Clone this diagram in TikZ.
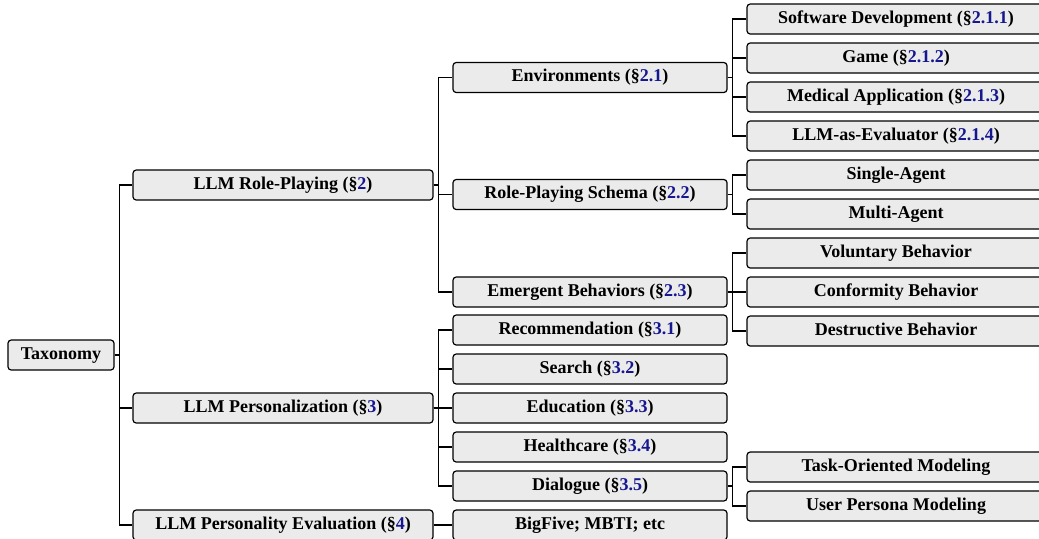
\documentclass[tikz,border=0pt]{standalone}
\usepackage{fontspec}
\setmainfont{Liberation Serif}
\usepackage{tikz}
\usetikzlibrary{positioning,calc}
\definecolor{boxgray}{HTML}{EBEBEB}
\definecolor{refblue}{HTML}{16168F}
\newcommand{\secnum}[1]{(\S\textcolor{refblue}{#1})}
\tikzset{
  % kasten
  tx/.style={draw=black,fill=boxgray,line width=0.6pt,rounded corners=1.6pt,
             inner sep=0pt,minimum height=15pt,text height=6.3pt,text depth=1.9pt,
             font=\fontsize{9}{11}\selectfont\bfseries,align=center},
  tx0/.style={tx,minimum width=53pt},
  tx1/.style={tx,minimum width=150pt},
  tx2/.style={tx,minimum width=137pt},
  tx3/.style={tx,minimum width=149pt},
  % kanter
  fk/.style={draw=black,line width=0.65pt},
}
\begin{document}
\begin{tikzpicture}[x=0.5pt,y=-0.5pt]
\useasboundingbox (0,0) rectangle (1039,538);
  \node[tx0] (root) at (61,355) {Taxonomy};
  % nivå 1
  \node[tx1] (rp) at (283,185) {LLM Role-Playing \secnum{2}};
  \node[tx1] (pers) at (283,408) {LLM Personalization \secnum{3}};
  \node[tx1] (peval) at (283,525) {LLM Personality Evaluation \secnum{4}};
  % nivå 2
  \node[tx2] (env) at (590,77.5) {Environments \secnum{2.1}};
  \node[tx2] (schema) at (590,194.5) {Role-Playing Schema \secnum{2.2}};
  \node[tx2] (emerg) at (590,292) {Emergent Behaviors \secnum{2.3}};
  \node[tx2] (rec) at (590,330) {Recommendation \secnum{3.1}};
  \node[tx2] (search) at (590,369) {Search \secnum{3.2}};
  \node[tx2] (edu) at (590,408) {Education \secnum{3.3}};
  \node[tx2] (health) at (590,447) {Healthcare \secnum{3.4}};
  \node[tx2] (dial) at (590,486) {Dialogue \secnum{3.5}};
  \node[tx2] (big) at (590,525) {BigFive; MBTI; etc};
  % nivå 3
  \node[tx3] (soft) at (896,19) {Software Development \secnum{2.1.1}};
  \node[tx3] (game) at (896,58) {Game \secnum{2.1.2}};
  \node[tx3] (med) at (896,97) {Medical Application \secnum{2.1.3}};
  \node[tx3] (judge) at (896,136) {LLM-as-Evaluator \secnum{2.1.4}};
  \node[tx3] (single) at (896,175) {Single-Agent};
  \node[tx3] (multi) at (896,214) {Multi-Agent};
  \node[tx3] (vol) at (896,253) {Voluntary Behavior};
  \node[tx3] (conf) at (896,292) {Conformity Behavior};
  \node[tx3] (destr) at (896,331) {Destructive Behavior};
  \node[tx3] (task) at (896,467) {Task-Oriented Modeling};
  \node[tx3] (user) at (896,506) {User Persona Modeling};
  % gafflar
  \foreach \c in {rp,pers,peval}
    \draw[fk] (root.east) -- ++(2.5pt,0) |- (\c.west);
  \foreach \c in {env,schema,emerg}
    \draw[fk] (rp.east) -- ++(2.5pt,0) |- (\c.west);
  \foreach \c in {rec,search,edu,health,dial}
    \draw[fk] (pers.east) -- ++(2.5pt,0) |- (\c.west);
  \draw[fk] (peval.east) -- (big.west);
  \foreach \c in {soft,game,med,judge}
    \draw[fk] (env.east) -- ++(2.5pt,0) |- (\c.west);
  \foreach \c in {single,multi}
    \draw[fk] (schema.east) -- ++(2.5pt,0) |- (\c.west);
  \foreach \c in {vol,conf,destr}
    \draw[fk] (emerg.east) -- ++(2.5pt,0) |- (\c.west);
  \foreach \c in {task,user}
    \draw[fk] (dial.east) -- ++(2.5pt,0) |- (\c.west);
\end{tikzpicture}
\end{document}
